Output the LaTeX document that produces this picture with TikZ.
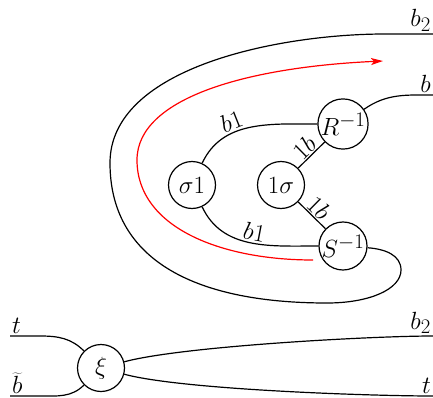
\RequirePackage{fix-cm}
\documentclass[tikz,border=0pt]{standalone}
\usetikzlibrary{arrows.meta}
\begin{document}
\begin{tikzpicture}[x=1pt,y=1pt,
  every node/.style={font=\Huge},
  vtx/.style={circle,draw,line width=1.2pt,minimum size=47pt,inner sep=0pt},
  wire/.style={line width=1.2pt},
  flow/.style={line width=1.2pt,red,-{Stealth[length=12pt,width=7pt,inset=3pt]}},
  lbl/.style={inner sep=2pt}]
\useasboundingbox (0,0) rectangle (433,397);
\node[vtx] (s1) at (192,212) {$\sigma1$};
\node[vtx] (ls) at (281,212) {$1\sigma$};
\node[vtx] (R) at (343,273) {$R^{-1}$};
\node[vtx] (S) at (343,151) {$S^{-1}$};
\node[vtx] (xi) at (101,29) {$\xi$};
\coordinate (b2top) at (433,363);
\coordinate (bR) at (433,302);
\coordinate (tl) at (10,61);
\coordinate (bl) at (10,1);
\coordinate (b2r) at (433,61);
\coordinate (tr) at (433,1);
\coordinate (redstart) at (313,137);
\coordinate (redend) at (383,336);
% inner edges
\draw[wire] (s1) to[out=65,in=180] node[lbl,pos=0.38,above,sloped] (lb1a) {$b1$} (R);
\draw[wire] (s1) to[out=-65,in=180] node[lbl,pos=0.52,above,sloped] (lb1b) {$b1$} (S);
\draw[wire] (ls) -- node[lbl,inner sep=1pt,above,sloped] (l1ba) {$1b$} (R);
\draw[wire] (ls) -- node[lbl,inner sep=1pt,above,sloped] (l1bb) {$1b$} (S);
\draw[wire] (R) to[out=35,in=180] (bR);
% outer loop
\draw[wire] (b2top) -- (385,363) .. controls (280,363) and (110,330) .. (110,234)
  .. controls (110,140) and (190,94) .. (327,94)
  .. controls (370,94) and (401,108) .. (401,127)
  .. controls (401,142) and (385,148) .. (S);
% red flow
\draw[flow] (redstart) .. controls (220,137) and (137,170) .. (137,237)
  .. controls (137,300) and (250,330) .. (redend);
% bottom
\draw[wire] (tl) -- (40,61) to[out=0,in=135] (xi);
\draw[wire] (bl) -- (40,1) to[out=0,in=-135] (xi);
\draw[wire] (xi) to[out=15,in=180,looseness=0.5] (b2r);
\draw[wire] (xi) to[out=-15,in=180,looseness=0.5] (tr);
% end labels
\node[lbl,anchor=south east] (lab1) at (b2top) {$b_2$};
\node[lbl,anchor=south east] (lab2) at (bR) {$b$};
\node[lbl,anchor=south east] (lab3) at (b2r) {$b_2$};
\node[lbl,anchor=south east] (lab4) at (tr) {$t$};
\node[lbl,anchor=south west] (lab5) at (tl) {$t$};
\node[lbl,anchor=south west] (lab6) at (bl) {$\widetilde{b}$};
\end{tikzpicture}
\end{document}
